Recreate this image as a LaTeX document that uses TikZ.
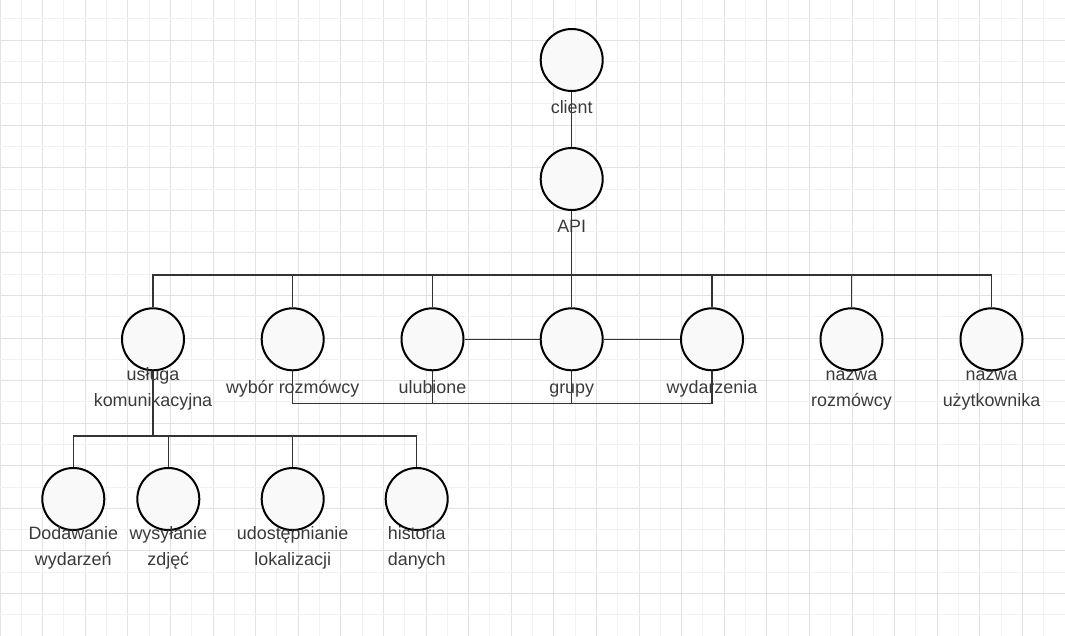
\documentclass[tikz,border=0pt]{standalone}
\usepackage{fontspec}
\setmainfont{Liberation Sans}
\definecolor{gridminor}{HTML}{F1F1F1}
\definecolor{gridmajor}{HTML}{E2E2E2}
\definecolor{edgecol}{HTML}{333333}
\definecolor{txtcol}{HTML}{3A3A3A}
\definecolor{circfill}{HTML}{F9F9F9}
\newcommand\ls{\strut}
\begin{document}
\begin{tikzpicture}[x=1pt,y=-1pt,
  circ/.style={circle,draw=black,line width=2pt,fill=circfill,minimum size=62pt,inner sep=0pt},
  edge/.style={draw=edgecol,line width=1.3pt},
  lbl/.style={text=txtcol,align=center,inner sep=0pt,font=\fontsize{17.9}{26}\selectfont}]
\useasboundingbox (0,0) rectangle (1065,636);
\fill[white] (0,0) rectangle (1065,636);
% grid
\foreach \k in {0,...,50}{
  \pgfmathsetmacro\xx{21.3*\k}
  \ifodd\k
    \draw[gridminor,line width=1pt] (\xx,0) -- (\xx,636);
  \else
    \draw[gridmajor,line width=1pt] (\xx,0) -- (\xx,636);
  \fi
}
\foreach \k in {0,...,30}{
  \pgfmathsetmacro\yy{636-21.28*\k}
  \ifodd\k
    \draw[gridminor,line width=1pt] (0,\yy) -- (1065,\yy);
  \else
    \draw[gridmajor,line width=1pt] (0,\yy) -- (1065,\yy);
  \fi
}
% circles
\node[circ] (client) at (571.7,60) {};
\node[circ] (api) at (571.7,179) {};
\node[circ] (usl) at (153,339.3) {};
\node[circ] (wyb) at (292.7,339.3) {};
\node[circ] (ulu) at (432.5,339.3) {};
\node[circ] (gru) at (571.7,339.3) {};
\node[circ] (wyd) at (712,339.3) {};
\node[circ] (nro) at (851.5,339.3) {};
\node[circ] (nuz) at (991.5,339.3) {};
\node[circ] (dod) at (73.3,499) {};
\node[circ] (wys) at (168.3,499) {};
\node[circ] (udo) at (292.7,499) {};
\node[circ] (his) at (416.7,499) {};
% connectors
\draw[edge] (client.south) -- (api.north);
\draw[edge] (api.south) -- ++(0,66);
\draw[edge] (usl.north) -- ++(0,-32.3) -| (nuz.north);
\foreach \c in {wyb,ulu,gru,wyd,nro}
  \draw[edge] (\c.north) -- ++(0,-32.3);
\draw[edge] (usl.south) -- ++(0,65.7);
\draw[edge] (dod.north) -- ++(0,-31) -| (his.north);
\foreach \c in {wys,udo}
  \draw[edge] (\c.north) -- ++(0,-31);
\draw[edge] (ulu.east) -- (gru.west);
\draw[edge] (gru.east) -- (wyd.west);
\draw[edge] (wyb.south) -- ++(0,32.5) -| (wyd.south);
\foreach \c in {ulu,gru}
  \draw[edge] (\c.south) -- ++(0,32.5);
% labels
\node[lbl] (lclient) at ([yshift=-48.5pt]client.center) {client\ls};
\node[lbl] (lapi) at ([yshift=-48.5pt]api.center) {API\ls};
\node[lbl] (lusl) at ([yshift=-48.5pt]usl.center) {usługa\ls\\komunikacyjna\ls};
\node[lbl] (lwyb) at ([yshift=-48.5pt]wyb.center) {wybór rozmówcy\ls};
\node[lbl] (lulu) at ([yshift=-48.5pt]ulu.center) {ulubione\ls};
\node[lbl] (lgru) at ([yshift=-48.5pt]gru.center) {grupy\ls};
\node[lbl] (lwyd) at ([yshift=-48.5pt]wyd.center) {wydarzenia\ls};
\node[lbl] (lnro) at ([yshift=-48.5pt]nro.center) {nazwa\ls\\rozmówcy\ls};
\node[lbl] (lnuz) at ([yshift=-48.5pt]nuz.center) {nazwa\ls\\użytkownika\ls};
\node[lbl] (ldod) at ([yshift=-48.5pt]dod.center) {Dodawanie\ls\\wydarzeń\ls};
\node[lbl] (lwys) at ([yshift=-48.5pt]wys.center) {wysyłanie\ls\\zdjęć\ls};
\node[lbl] (ludo) at ([yshift=-48.5pt]udo.center) {udostępnianie\ls\\lokalizacji\ls};
\node[lbl] (lhis) at ([yshift=-48.5pt]his.center) {historia\ls\\danych\ls};
\end{tikzpicture}
\end{document}
